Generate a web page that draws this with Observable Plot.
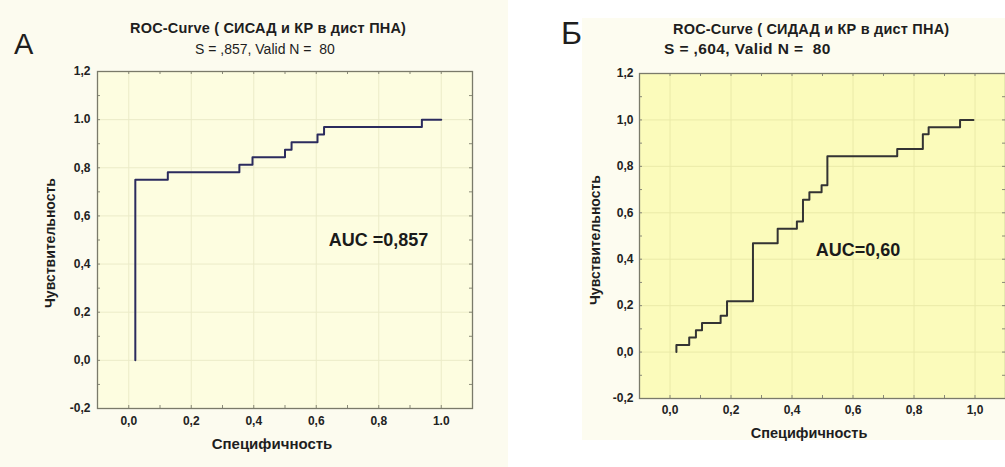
<!DOCTYPE html>
<html>
<head>
<meta charset="utf-8">
<script src="https://cdn.jsdelivr.net/npm/d3@7"></script>
<script src="https://cdn.jsdelivr.net/npm/@observablehq/plot@0.6"></script>
<style>
  html, body { margin: 0; padding: 0; background: #ffffff; }
  body { width: 1005px; height: 467px; overflow: hidden; position: relative; font-family: "Liberation Sans", Arial, sans-serif; color: #1e1e1e; }
  .abs { position: absolute; white-space: nowrap; }
  #bgA { left: 0; top: 0; width: 508px; height: 467px; background: #fcfbef; }
  #bgB { left: 582px; top: 18px; width: 423px; height: 422px; background: #fdfcf0; }
  .plot { position: absolute; top: 0; }
  .ylab { transform: translate(-50%, -50%) rotate(-90deg); font-weight: bold; font-size: 14px; }
  .xlab { transform: translate(-50%, -50%); font-weight: bold; font-size: 15px; }
  .title { font-size: 14.5px; font-weight: bold; letter-spacing: 0.2px; }
</style>
</head>
<body>
<div id="bgA" class="abs"></div>
<div id="bgB" class="abs"></div>

<div class="abs" style="left:14px; top:28px; font-size:29px;">А</div>
<div class="abs title" style="left:130px; top:20px;">ROC-Curve ( СИСАД и КР в дист ПНА)</div>
<div class="abs" style="left:195px; top:41px; font-size:14px;">S = ,857, Valid N = &nbsp;80</div>
<div class="abs ylab" style="left:50px; top:243px;">Чувствительность</div>
<div class="abs xlab" style="left:272px; top:443px;">Специфичность</div>

<div class="abs" style="left:561px; top:15px; font-size:32px;">Б</div>
<div class="abs title" style="left:673px; top:21px;">ROC-Curve ( СИДАД и КР в дист ПНА)</div>
<div class="abs" style="left:664px; top:40px; font-size:15.5px; font-weight:bold; letter-spacing:0.4px;">S = ,604, Valid N = &nbsp;80</div>
<div class="abs ylab" style="left:595px; top:240px;">Чувствительность</div>
<div class="abs xlab" style="left:809px; top:433px; font-size:14.5px;">Специфичность</div>

<div id="plotA" class="plot" style="left:0px;"></div>
<div id="plotB" class="plot" style="left:560px;"></div>

<script>
// ---- Data ----
const xTicks = [0, 0.2, 0.4, 0.6, 0.8, 1.0];
const yTicks = [-0.2, 0, 0.2, 0.4, 0.6, 0.8, 1.0, 1.2];
const xMinor = [-0.1, 0, 0.1, 0.2, 0.3, 0.4, 0.5, 0.6, 0.7, 0.8, 0.9, 1.0, 1.1];
const yMinor = [-0.2, -0.1, 0, 0.1, 0.2, 0.3, 0.4, 0.5, 0.6, 0.7, 0.8, 0.9, 1.0, 1.1, 1.2];

const xLabelsA = ["0,0", "0,2", "0,4", "0,6", "0,8", "1.0"];
const yLabelsA = ["-0,2", "0,0", "0,2", "0,4", "0,6", "0,8", "1.0", "1,2"];
const xLabelsB = ["0,0", "0,2", "0,4", "0,6", "0,8", "1,0"];
const yLabelsB = ["-0,2", "0,0", "0,2", "0,4", "0,6", "0,8", "1,0", "1,2"];

// Panel A ROC curve (step points: x of jump, sensitivity after jump)
const fprA = [0.021, 0.021, 0.125, 0.354, 0.396, 0.500, 0.521, 0.604, 0.625, 0.938, 1.0];
const tprA = [0.0, 0.750, 0.781, 0.813, 0.844, 0.875, 0.906, 0.938, 0.969, 1.0, 1.0];

// Panel Б ROC curve
const fprB = [0.021, 0.021, 0.063, 0.085, 0.105, 0.166, 0.187, 0.272, 0.353, 0.416, 0.436, 0.457, 0.497, 0.516, 0.745, 0.829, 0.848, 0.951, 0.995];
const tprB = [0.0, 0.031, 0.063, 0.094, 0.125, 0.156, 0.219, 0.469, 0.531, 0.563, 0.656, 0.688, 0.719, 0.844, 0.875, 0.938, 0.969, 1.0, 1.0];

const aucTextA = "AUC =0,857", aucXA = 0.64, aucYA = 0.50;
const aucTextB = "AUC=0,60", aucXB = 0.478, aucYB = 0.44;

function panel(o) {
  const pts = o.fpr.map((x, i) => ({x, y: o.tpr[i]}));
  const pw = o.width - o.mL - o.mR, ph = o.height - o.mT - o.mB;
  const tickStroke = "#8a8a78";
  return Plot.plot({
    width: o.width, height: o.height,
    marginLeft: o.mL, marginRight: o.mR, marginTop: o.mT, marginBottom: o.mB,
    style: {background: "transparent", fontFamily: "'Liberation Sans', Arial, sans-serif", fontSize: "12px", fontWeight: "bold", color: "#222", overflow: "visible"},
    x: {domain: [-0.1, 1.1], ticks: xTicks, tickSize: 0, tickPadding: o.xPad, label: null,
        tickFormat: d => o.xLabels[xTicks.indexOf(d)]},
    y: {domain: [-0.2, 1.2], ticks: yTicks, tickSize: 0, tickPadding: o.yPad, label: null,
        tickFormat: d => o.yLabels[yTicks.indexOf(d)]},
    marks: [
      Plot.frame({fill: o.bg}),
      Plot.gridX(xTicks, {stroke: o.grid, strokeOpacity: 1}),
      Plot.gridY(yTicks, {stroke: o.grid, strokeOpacity: 1}),
      Plot.tickX(xMinor, {x: d => d, insetTop: ph - 3, stroke: tickStroke}),
      Plot.tickX(xMinor, {x: d => d, insetBottom: ph - 3, stroke: tickStroke}),
      Plot.tickY(yMinor, {y: d => d, insetRight: pw - 3, stroke: tickStroke}),
      Plot.tickY(yMinor, {y: d => d, insetLeft: pw - 3, stroke: tickStroke}),
      Plot.line(pts, {x: "x", y: "y", curve: "step-after", stroke: o.line, strokeWidth: 2}),
      Plot.text([o.auc], {x: d => d.x, y: d => d.y, text: d => d.text, textAnchor: "start", fontSize: 18, fontWeight: "bold", fill: "#1a1a1a"}),
      Plot.frame({stroke: "#7a7a6a", strokeWidth: 1.3})
    ]
  });
}

document.getElementById("plotA").append(panel({
  width: 505, height: 467, mL: 97, mR: 33, mT: 71, mB: 59,
  fpr: fprA, tpr: tprA, bg: "#fdfde0", grid: "#ebebc8", line: "#2b2b5e",
  xLabels: xLabelsA, yLabels: yLabelsA, xPad: 8, yPad: 7,
  auc: {text: aucTextA, x: aucXA, y: aucYA}
}));

document.getElementById("plotB").append(panel({
  width: 445, height: 467, mL: 79, mR: 0, mT: 73, mB: 69,
  fpr: fprB, tpr: tprB, bg: "#fbfbbb", grid: "#eaeaa8", line: "#333333",
  xLabels: xLabelsB, yLabels: yLabelsB, xPad: 7, yPad: 6,
  auc: {text: aucTextB, x: aucXB, y: aucYB}
}));
</script>
</body>
</html>
